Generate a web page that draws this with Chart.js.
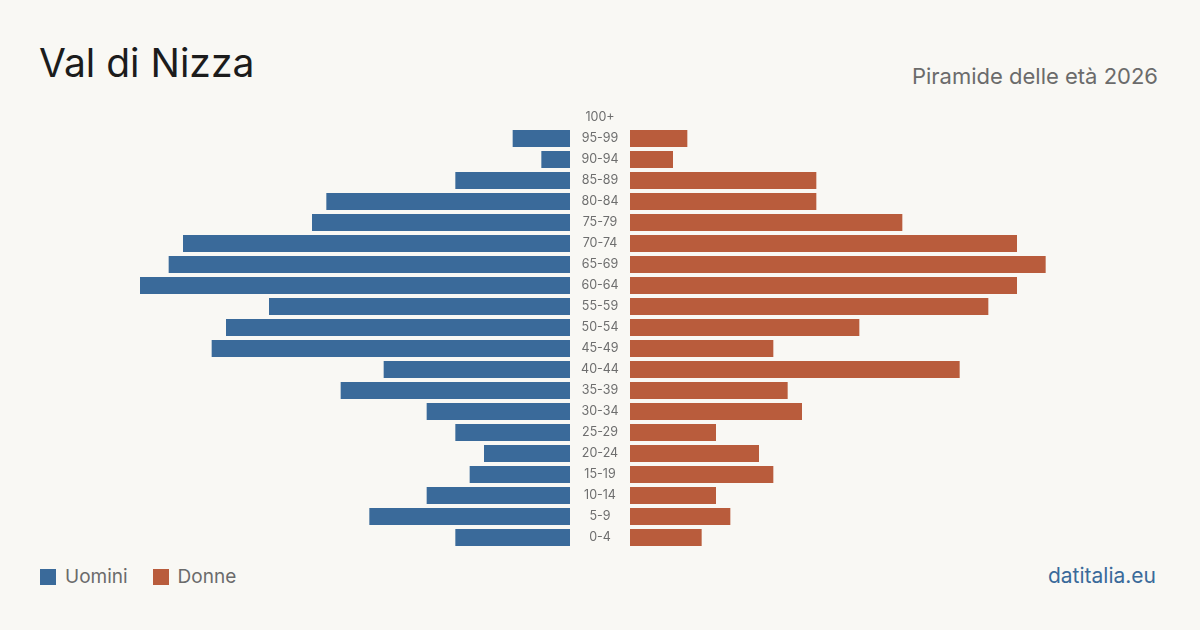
<!DOCTYPE html>
<html lang="it">
<head>
    <meta charset="UTF-8">
    <title>Val di Nizza - Piramide delle età 2026</title>
    <script src="https://cdn.jsdelivr.net/npm/chart.js"></script>
    <style>
        body {
            margin: 0;
            width: 1200px;
            height: 630px;
            background-color: #f9f8f4;
            font-family: Inter, "Noto Sans", sans-serif;
            position: relative;
            overflow: hidden;
        }
        .title {
            position: absolute;
            left: 39px;
            top: 43px;
            font-size: 39px;
            color: #1c1c1c;
            line-height: 1;
        }
        .subtitle {
            position: absolute;
            right: 42px;
            top: 65px;
            font-size: 22px;
            color: #6b6b6b;
            line-height: 1;
        }
        #leftWrap { position: absolute; left: 140px; top: 107px; width: 430px; height: 441px; }
        #rightWrap { position: absolute; left: 570px; top: 107px; width: 490px; height: 441px; }
        .legend {
            position: absolute;
            left: 40px;
            top: 565px;
            display: flex;
            align-items: center;
            font-size: 19px;
            color: #6b6b6b;
        }
        .legend .box {
            display: inline-block;
            width: 16px;
            height: 16px;
            margin-right: 9px;
        }
        .legend .item { display: flex; align-items: center; margin-right: 25px; }
        .source {
            position: absolute;
            right: 44px;
            top: 563px;
            font-size: 21px;
            color: #3a6a9a;
        }
    </style>
</head>
<body>
    <div class="title">Val di Nizza</div>
    <div class="subtitle">Piramide delle età 2026</div>
    <div id="leftWrap"><canvas id="menChart"></canvas></div>
    <div id="rightWrap"><canvas id="womenChart"></canvas></div>
    <div class="legend">
        <div class="item"><span class="box" style="background:#3a6a9a"></span>Uomini</div>
        <div class="item"><span class="box" style="background:#b95c3c"></span>Donne</div>
    </div>
    <div class="source">datitalia.eu</div>

    <script>
        const ageGroups = ["100+", "95-99", "90-94", "85-89", "80-84", "75-79", "70-74", "65-69", "60-64", "55-59",
            "50-54", "45-49", "40-44", "35-39", "30-34", "25-29", "20-24", "15-19", "10-14", "5-9", "0-4"];
        const men = [0, 4, 2, 8, 17, 18, 27, 28, 30, 21, 24, 25, 13, 16, 10, 8, 6, 7, 10, 14, 8];
        const women = [0, 4, 3, 13, 13, 19, 27, 29, 27, 25, 16, 10, 23, 11, 12, 6, 9, 10, 6, 7, 5];
        const maxValue = 30;

        const blue = '#3a6a9a';
        const orange = '#b95c3c';

        Chart.defaults.font.family = 'Inter, "Noto Sans", sans-serif';
        Chart.defaults.animation = false;

        function baseOptions(reverse, padLeft) {
            return {
                indexAxis: 'y',
                responsive: true,
                maintainAspectRatio: false,
                layout: { padding: { left: padLeft, right: 0, top: 0, bottom: 0 } },
                plugins: { legend: { display: false }, tooltip: { enabled: false } },
                scales: {
                    x: { display: false, min: 0, max: maxValue, reverse: reverse },
                    y: { display: false }
                }
            };
        }

        // men on the left, axis reversed so bars grow leftwards
        new Chart(document.getElementById('menChart'), {
            type: 'bar',
            data: {
                labels: ageGroups,
                datasets: [{ data: men, backgroundColor: blue, barPercentage: 0.81, categoryPercentage: 1 }]
            },
            options: baseOptions(true, 0)
        });

        // age labels drawn in the gap between the two halves
        const ageLabels = {
            id: 'ageLabels',
            afterDraw(chart) {
                const ctx = chart.ctx;
                const yScale = chart.scales.y;
                ctx.save();
                ctx.font = '12.5px Inter, "Noto Sans", sans-serif';
                ctx.fillStyle = '#6e6e6e';
                ctx.textAlign = 'center';
                ctx.textBaseline = 'middle';
                ageGroups.forEach((label, i) => {
                    ctx.fillText(label, chart.chartArea.left - 30, yScale.getPixelForValue(i));
                });
                ctx.restore();
            }
        };

        new Chart(document.getElementById('womenChart'), {
            type: 'bar',
            data: {
                labels: ageGroups,
                datasets: [{ data: women, backgroundColor: orange, barPercentage: 0.81, categoryPercentage: 1 }]
            },
            options: baseOptions(false, 60),
            plugins: [ageLabels]
        });
    </script>
</body>
</html>
